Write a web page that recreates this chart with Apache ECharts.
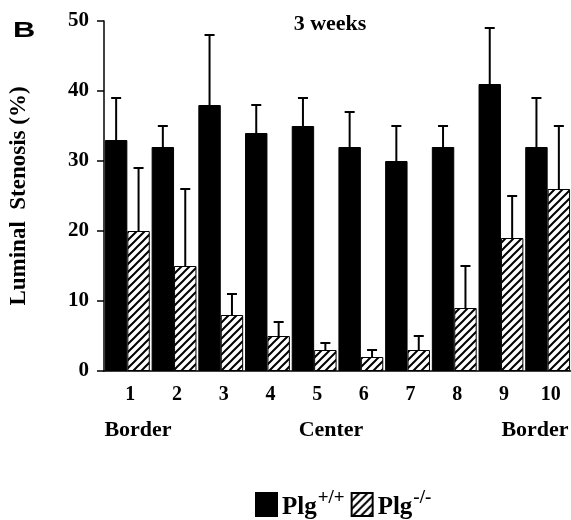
<!DOCTYPE html>
<html><head><meta charset="utf-8">
<script src="https://cdn.jsdelivr.net/npm/echarts@6/dist/echarts.min.js"></script>
<style>html,body{margin:0;padding:0;background:#fff}#c{width:571px;height:520px}</style>
</head><body><div id="c"></div>
<script>
const categories = ['1','2','3','4','5','6','7','8','9','10'];
const wildType = [33, 32, 38, 34, 35, 32, 30, 32, 41, 32];
const wildTypeErr = [6, 3, 10, 4, 4, 5, 5, 3, 8, 7];
const knockout = [20, 15, 8, 5, 3, 2, 3, 9, 19, 26];
const knockoutErr = [9, 11, 3, 2, 1, 1, 2, 6, 6, 9];
const yTicks = [0, 10, 20, 30, 40, 50];

function hatch() {
  const c = document.createElement('canvas');
  c.width = 8; c.height = 8;
  const g = c.getContext('2d');
  g.fillStyle = '#fff'; g.fillRect(0, 0, 8, 8);
  g.strokeStyle = '#000'; g.lineWidth = 2;
  g.beginPath();
  g.moveTo(0, 8); g.lineTo(8, 0);
  g.moveTo(-4, 4); g.lineTo(4, -4);
  g.moveTo(4, 12); g.lineTo(12, 4);
  g.stroke();
  return c;
}
const hatchFill = { image: hatch(), repeat: 'repeat' };
const GAP = 0.04;
const serif = 'Liberation Serif';

function errSeries(vals, errs, side) {
  return {
    type: 'custom',
    z: 5,
    silent: true,
    data: vals.map((v, i) => [i, v, v + errs[i]]),
    renderItem: function (params, api) {
      const band = api.size([1, 0])[0];
      const bw = band * (1 - GAP) / 2;
      const base = api.coord([api.value(0), api.value(1)]);
      const top = api.coord([api.value(0), api.value(2)]);
      const x = base[0] + side * bw / 2;
      const cap = 5;
      return {
        type: 'group',
        children: [
          { type: 'line', shape: { x1: x, y1: base[1], x2: x, y2: top[1] }, style: { stroke: '#000', lineWidth: 2 } },
          { type: 'line', shape: { x1: x - cap, y1: top[1], x2: x + cap, y2: top[1] }, style: { stroke: '#000', lineWidth: 2 } }
        ]
      };
    }
  };
}

function label(text, cx, top, size) {
  return { text: text, left: cx, top: top, padding: 0, textAlign: 'center',
    textStyle: { fontFamily: serif, fontWeight: 'bold', fontSize: size, color: '#000' } };
}

const chart = echarts.init(document.getElementById('c'));
chart.setOption({
  animation: false,
  backgroundColor: '#fff',
  grid: { left: 103, right: 0, top: 21, height: 350 },
  graphic: [
    { type: 'text', x: 13, y: 20, scaleX: 1.4, style: { text: 'B', font: 'bold 22px "Liberation Sans"', fill: '#000' } }
  ],
  title: [
    label('3 weeks', 330, 13, 22),
    label('Border', 138, 419, 22),
    label('Center', 331, 419, 22),
    label('Border', 535, 419, 22)
  ],
  legend: {
    top: 484, left: 250,
    itemWidth: 21, itemHeight: 23, itemGap: 6,
    icon: 'rect',
    data: ['Plg+/+', 'Plg-/-'],
    formatter: function (n) {
      return n === 'Plg+/+' ? '{b|Plg}{s|+/+}' : '{b|Plg}{s|-/-}';
    },
    textStyle: {
      rich: {
        b: { fontFamily: serif, fontWeight: 'bold', fontSize: 25, color: '#000', padding: [6, 0, 0, 0] },
        s: { fontFamily: serif, fontWeight: 'bold', fontSize: 19, color: '#000', verticalAlign: 'top', padding: [0, 0, 10, 1] }
      }
    }
  },
  xAxis: {
    type: 'category',
    data: categories,
    axisLine: { lineStyle: { color: '#000', width: 1.5 } },
    axisTick: { show: false },
    axisLabel: { margin: 14, padding: [0, 0, 0, 6], fontFamily: serif, fontWeight: 'bold', fontSize: 20, color: '#000' }
  },
  yAxis: {
    type: 'value', min: 0, max: 50, interval: 10,
    name: 'Luminal  Stenosis (%)',
    nameLocation: 'middle', nameGap: 73, nameRotate: 90,
    nameTextStyle: { fontFamily: serif, fontWeight: 'bold', fontSize: 23, color: '#000' },
    splitLine: { show: false },
    axisLine: { show: true, lineStyle: { color: '#000', width: 1.5 } },
    axisTick: { show: true, length: 7, lineStyle: { color: '#000', width: 1.5 } },
    axisLabel: { margin: 15, fontFamily: serif, fontWeight: 'bold', fontSize: 21, color: '#000',
      formatter: v => yTicks.includes(v) ? String(v) : '' }
  },
  series: [
    { name: 'Plg+/+', type: 'bar', data: wildType, barGap: '0%', barCategoryGap: (GAP * 100) + '%',
      itemStyle: { color: '#000', borderColor: '#000', borderWidth: 1 } },
    { name: 'Plg-/-', type: 'bar', data: knockout, barGap: '0%', barCategoryGap: (GAP * 100) + '%',
      itemStyle: { color: hatchFill, borderColor: '#000', borderWidth: 1 } },
    errSeries(wildType, wildTypeErr, -1),
    errSeries(knockout, knockoutErr, 1)
  ]
});
</script></body></html>
